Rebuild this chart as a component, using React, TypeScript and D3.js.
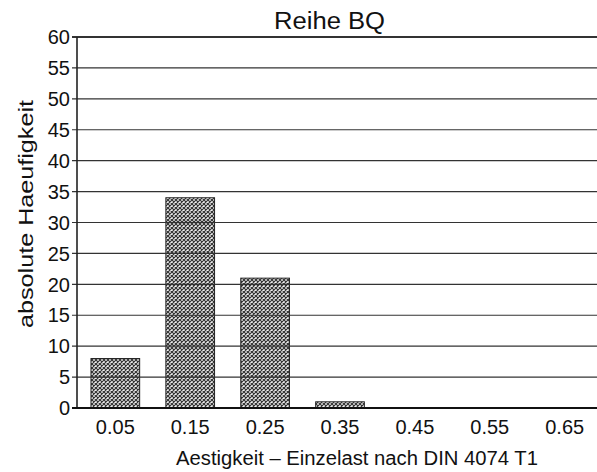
import React from "react";
import * as d3 from "d3";

const categories = ["0.05", "0.15", "0.25", "0.35", "0.45", "0.55", "0.65"];
const counts = [8, 34, 21, 1, 0, 0, 0];
const yTicks = [0, 5, 10, 15, 20, 25, 30, 35, 40, 45, 50, 55, 60];
const title = "Reihe BQ";
const xTitle = "Aestigkeit  –  Einzelast nach DIN 4074 T1";
const yTitle = "absolute  Haeufigkeit";

const W = 597;
const H = 472;
const left = 77;
const right = 602.5;
const top = 37;
const bottom = 408;
const font = "'Liberation Sans', Arial, Helvetica, sans-serif";

export default function App() {
  const x = d3
    .scaleBand<string>()
    .domain(categories)
    .range([left + 0.5, right])
    .paddingInner(0.35)
    .paddingOuter(0.18);
  const y = d3.scaleLinear().domain([0, 60]).range([bottom, top]);

  return (
    <svg
      width={W}
      height={H}
      style={{ position: "absolute", left: 0, top: 0, background: "#fff" }}
    >
      <defs>
        <pattern id="hatch" width="4" height="4" patternUnits="userSpaceOnUse">
          <rect width="4" height="4" fill="#f0f0f0" />
          <path d="M0,0 L4,4 M4,0 L0,4" stroke="#333" strokeWidth="1.2" />
        </pattern>
      </defs>
      <rect width={W} height={H} fill="#fff" />
      {categories.map((c, i) =>
        counts[i] > 0 ? (
          <rect
            key={c}
            x={x(c)}
            y={y(counts[i])}
            width={x.bandwidth()}
            height={y(0) - y(counts[i])}
            fill="url(#hatch)"
            stroke="#222"
            strokeWidth={1}
          />
        ) : null
      )}
      {yTicks.map((t) => (
        <g key={t}>
          {t > 0 && (
            <line
              x1={left - 5}
              x2={W}
              y1={y(t)}
              y2={y(t)}
              stroke="#333"
              strokeWidth={t === 60 ? 2.2 : 1.2}
            />
          )}
          <text
            x={70}
            y={y(t)}
            dy="0.36em"
            textAnchor="end"
            fontFamily={font}
            fontSize={20}
            fill="#111"
          >
            {t}
          </text>
        </g>
      ))}
      <line x1={left} x2={left} y1={top} y2={bottom} stroke="#222" strokeWidth={1.6} />
      <line x1={left - 5} x2={W} y1={bottom} y2={bottom} stroke="#111" strokeWidth={2} />
      {categories.map((c) => (
        <text
          key={c}
          x={(x(c) as number) + x.bandwidth() / 2}
          y={434}
          textAnchor="middle"
          fontFamily={font}
          fontSize={20}
          fill="#111"
        >
          {c}
        </text>
      ))}
      <text
        x={329.5}
        y={29}
        textAnchor="middle"
        fontFamily={font}
        fontSize={23.5}
        textLength={111}
        lengthAdjust="spacingAndGlyphs"
        fill="#111"
      >
        {title}
      </text>
      <text
        x={357}
        y={465}
        textAnchor="middle"
        fontFamily={font}
        fontSize={19.5}
        textLength={362}
        lengthAdjust="spacingAndGlyphs"
        fill="#111"
      >
        {xTitle}
      </text>
      <text
        transform={`translate(33, 214) rotate(-90)`}
        textAnchor="middle"
        fontFamily={font}
        fontSize={21}
        textLength={228}
        lengthAdjust="spacingAndGlyphs"
        fill="#111"
      >
        {yTitle}
      </text>
    </svg>
  );
}
